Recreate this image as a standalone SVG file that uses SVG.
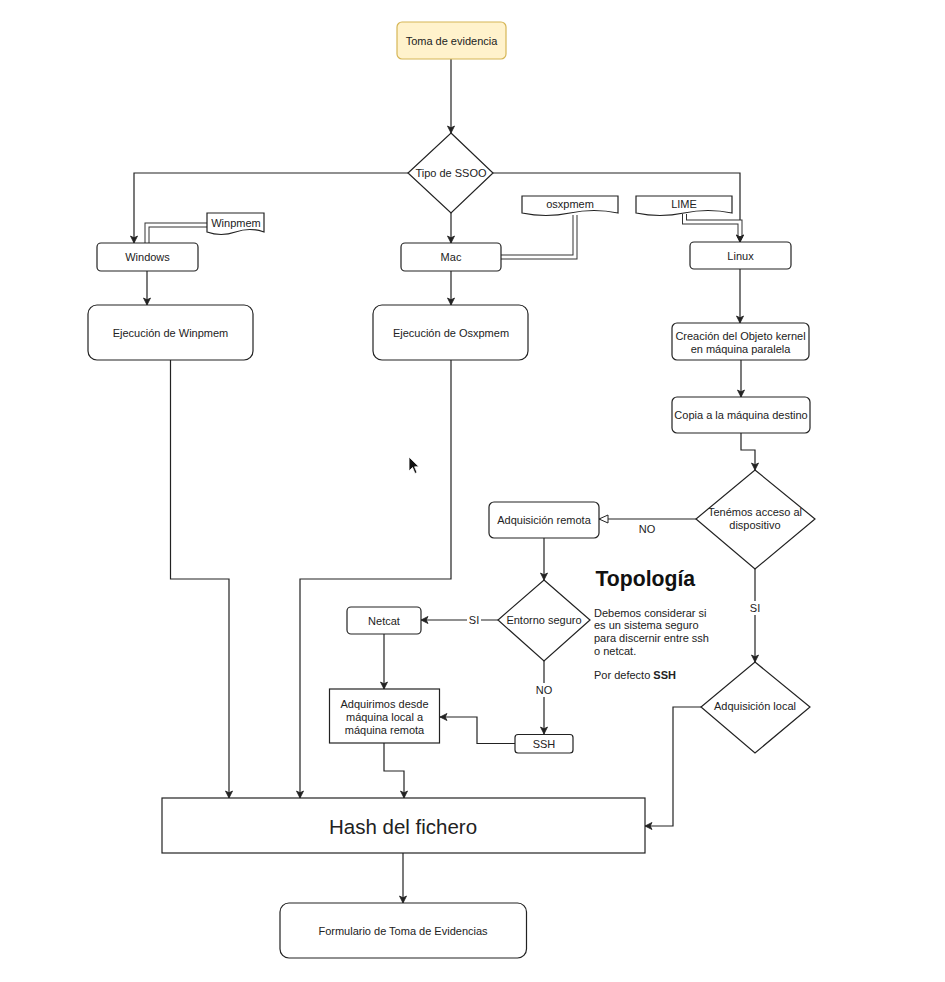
<svg xmlns="http://www.w3.org/2000/svg" width="945" height="982" viewBox="0 0 945 982">
<style>
text{font-family:"Liberation Sans",Arial,sans-serif;font-size:11px;fill:#222;}
.c{text-anchor:middle;dominant-baseline:central;}
.n{fill:#fff;stroke:#222;stroke-width:1.2;}
.e{fill:none;stroke:#222;stroke-width:1.2;}
.lo{fill:none;stroke:#333;stroke-width:5;}
.li{fill:none;stroke:#fff;stroke-width:3;}
.lbl{fill:#fff;}
</style>
<defs>
<marker id="a" markerUnits="userSpaceOnUse" markerWidth="8" markerHeight="8" refX="7" refY="3.5" orient="auto" overflow="visible">
<path d="M0,0 L7,3.5 L0,7 L1.8,3.5 Z" fill="#222" stroke="#222" stroke-width="0.8"/>
</marker>
<marker id="o" markerUnits="userSpaceOnUse" markerWidth="10" markerHeight="10" refX="9" refY="4" orient="auto" overflow="visible">
<path d="M0,0 L9,4 L0,8 Z" fill="#fff" stroke="#222" stroke-width="1"/>
</marker>
</defs>
<rect width="945" height="982" fill="#fff"/>

<g id="connectors">
<path class="e" d="M451,59 V133" marker-end="url(#a)"/>
<path class="e" d="M408,173 H134 V243" marker-end="url(#a)"/>
<path class="e" d="M451,213 V243" marker-end="url(#a)"/>
<path class="e" d="M493,173 H740 V242" marker-end="url(#a)"/>
<g>
<path class="lo" d="M208,225 H147 V243"/>
<path class="li" d="M208,225 H147 V243"/>
</g>
<g>
<path class="lo" d="M575,215 V257 H501"/>
<path class="li" d="M575,215 V257 H501"/>
</g>
<g>
<path class="lo" d="M684.5,214 V222 H740 V238"/>
<path class="li" d="M684.5,214 V222 H740 V238"/>
<path class="e" d="M740,236 V242" marker-end="url(#a)"/>
</g>
<path class="e" d="M147,271 V305" marker-end="url(#a)"/>
<path class="e" d="M451,271 V305" marker-end="url(#a)"/>
<path class="e" d="M740,269 V323" marker-end="url(#a)"/>
<path class="e" d="M741,360 V397" marker-end="url(#a)"/>
<path class="e" d="M741,433 V450 H755 V470" marker-end="url(#a)"/>
<path class="e" d="M696,519 H599" marker-end="url(#o)"/>
<text class="c" x="647" y="529">NO</text>
<path class="e" d="M755,569 V662" marker-end="url(#a)"/>
<rect class="lbl" x="748" y="601" width="14" height="14"/>
<text class="c" x="755" y="608">SI</text>
<path class="e" d="M544,538 V580" marker-end="url(#a)"/>
<path class="e" d="M498,620 H421" marker-end="url(#a)"/>
<rect class="lbl" x="467" y="613" width="14" height="14"/>
<text class="c" x="474" y="620">SI</text>
<path class="e" d="M544,661 V734" marker-end="url(#a)"/>
<rect class="lbl" x="535" y="683" width="18" height="14"/>
<text class="c" x="544" y="690">NO</text>
<path class="e" d="M384,634 V689" marker-end="url(#a)"/>
<path class="e" d="M515,743.5 H477 V717 H440" marker-end="url(#a)"/>
<path class="e" d="M384,743 V771 H404 V798" marker-end="url(#a)"/>
<path class="e" d="M170.5,360 V579 H229 V798" marker-end="url(#a)"/>
<path class="e" d="M451,360 V579 H300 V798" marker-end="url(#a)"/>
<path class="e" d="M701,707 H673 V826 H645" marker-end="url(#a)"/>
<path class="e" d="M403,853 V903" marker-end="url(#a)"/>
</g>

<g id="toma">
<rect x="397" y="22" width="109" height="37" rx="5" fill="#fff2cc" stroke="#d6b656" stroke-width="1.2"/>
<text class="c" x="451.5" y="41">Toma de evidencia</text>
</g>
<g id="tipo">
<path class="n" d="M451,133 L493,173 L451,213 L408,173 Z"/>
<text class="c" x="451" y="173">Tipo de SSOO</text>
</g>
<g id="winpmem">
<path class="n" d="M207,213 H264 V232 Q250,227 235.5,232 Q221,237 207,232 Z"/>
<text class="c" x="236" y="223">Winpmem</text>
</g>
<g id="osxpmem">
<path class="n" d="M522,196 H618 V213 Q594,208 570,213 Q546,218 522,213 Z"/>
<text class="c" x="570" y="204">osxpmem</text>
</g>
<g id="lime">
<path class="n" d="M636,196 H732 V213 Q708,208 684,213 Q660,218 636,213 Z"/>
<text class="c" x="684" y="204">LIME</text>
</g>
<g id="windows">
<rect class="n" x="97" y="243" width="101" height="28" rx="4"/>
<text class="c" x="147.5" y="257">Windows</text>
</g>
<g id="mac">
<rect class="n" x="401" y="243" width="100" height="28" rx="4"/>
<text class="c" x="451" y="257">Mac</text>
</g>
<g id="linux">
<rect class="n" x="690" y="242" width="101" height="27" rx="4"/>
<text class="c" x="740.5" y="255.5">Linux</text>
</g>
<g id="ejec-winpmem">
<rect class="n" x="88" y="305" width="165" height="55" rx="9"/>
<text class="c" x="170.5" y="333">Ejecución de Winpmem</text>
</g>
<g id="ejec-osxpmem">
<rect class="n" x="373" y="305" width="155" height="55" rx="9"/>
<text class="c" x="451" y="333">Ejecución de Osxpmem</text>
</g>
<g id="creacion">
<rect class="n" x="672" y="323" width="137" height="37" rx="5"/>
<text class="c" x="740.5" y="336">Creación del Objeto kernel</text>
<text class="c" x="740.5" y="349">en máquina paralela</text>
</g>
<g id="copia">
<rect class="n" x="672" y="397" width="138" height="36" rx="5"/>
<text class="c" x="741" y="415">Copia a la máquina destino</text>
</g>
<g id="acceso">
<path class="n" d="M755,470 L815,519 L755,569 L696,519 Z"/>
<text class="c" x="755" y="512">Tenémos acceso al</text>
<text class="c" x="755" y="525">dispositivo</text>
</g>
<g id="adq-remota">
<rect class="n" x="489" y="502" width="110" height="36" rx="5"/>
<text class="c" x="544" y="520">Adquisición remota</text>
</g>
<g id="entorno">
<path class="n" d="M544,580 L590,620 L544,661 L498,620 Z"/>
<text class="c" x="544" y="620">Entorno seguro</text>
</g>
<g id="netcat">
<rect class="n" x="347" y="607" width="74" height="27" rx="4"/>
<text class="c" x="384" y="620.5">Netcat</text>
</g>
<g id="adquirimos">
<rect class="n" x="329.5" y="689" width="110" height="54"/>
<text class="c" x="384.5" y="704">Adquirimos desde</text>
<text class="c" x="384.5" y="717">máquina local a</text>
<text class="c" x="384.5" y="730">máquina remota</text>
</g>
<g id="ssh">
<rect class="n" x="515" y="734.5" width="58" height="18.5" rx="3"/>
<text class="c" x="544" y="744">SSH</text>
</g>
<g id="adq-local">
<path class="n" d="M755,662 L810,707 L755,753 L701,707 Z"/>
<text class="c" x="755" y="706">Adquisición local</text>
</g>
<g id="topologia">
<text x="595.5" y="586" style="font-size:21.2px;font-weight:bold;fill:#111;">Topología</text>
<text x="594" y="616.5">Debemos considerar si</text>
<text x="594" y="629">es un sistema seguro</text>
<text x="594" y="642">para discernir entre ssh</text>
<text x="594" y="654.5">o netcat.</text>
<text x="594" y="678.5">Por defecto <tspan font-weight="bold">SSH</tspan></text>
</g>
<g id="hash">
<rect class="n" x="162" y="798" width="483" height="55"/>
<text class="c" x="403" y="826" style="font-size:20.5px;">Hash del fichero</text>
</g>
<g id="formulario">
<rect class="n" x="280" y="903" width="246.5" height="55" rx="9"/>
<text class="c" x="403" y="931">Formulario de Toma de Evidencias</text>
</g>
<g id="cursor">
<path d="M409,457 L409,471 L412.5,467.5 L415,473.5 L417,472.5 L414.6,466.8 L419,466.8 Z" fill="#111" stroke="#fff" stroke-width="0.8"/>
</g>
</svg>
